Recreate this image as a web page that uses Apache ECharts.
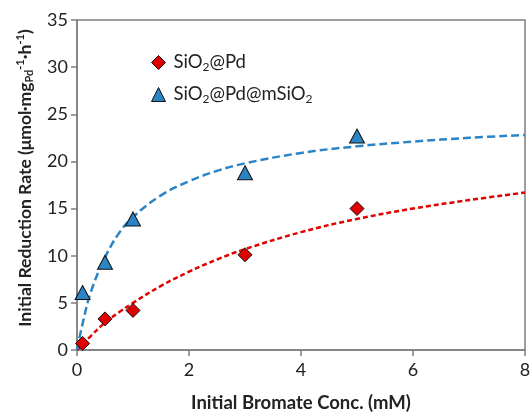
<!DOCTYPE html>
<html>
<head>
<meta charset="utf-8">
<script src="https://cdn.jsdelivr.net/npm/echarts@6/dist/echarts.min.js"></script>
<style>
  html, body { margin: 0; padding: 0; background: #fff; }
  #chart { width: 531px; height: 414px; }
</style>
</head>
<body>
<div id="chart"></div>
<script>
// Measured initial reduction rates (μmol·mgPd⁻¹·h⁻¹) vs initial bromate concentration (mM)
const concentrations = [0.1, 0.5, 1, 3, 5];
const rateSiO2Pd = [0.7, 3.3, 4.2, 10.1, 15.0];
const rateSiO2PdmSiO2 = [6.1, 9.3, 13.9, 18.8, 22.7];

// Kinetic fit curves (dashed), sampled along the concentration axis
const fitConc = [0, 0.1, 0.25, 0.5, 0.75, 1, 1.5, 2, 2.5, 3, 4, 5, 6, 7, 8];
const fitSiO2Pd = [0, 0.6, 1.5, 2.9, 4.0, 5.0, 6.8, 8.3, 9.6, 10.7, 12.5, 13.9, 15.0, 15.9, 16.7];
const fitSiO2PdmSiO2 = [0, 2.8, 6.2, 9.8, 12.4, 14.1, 16.4, 17.9, 19.0, 19.8, 20.9, 21.6, 22.1, 22.5, 22.8];

const xTicks = [0, 2, 4, 6, 8];
const yTicks = [0, 5, 10, 15, 20, 25, 30, 35];

const pair = (xs, ys) => xs.map((x, i) => [x, ys[i]]);

const FONT = 'Lato';
const RED = '#E00000';
const BLUE = '#2B85C4';
const AXIS = '#7F7F7F';

const chart = echarts.init(document.getElementById('chart'), null, { renderer: 'canvas' });

const legendRich = {
  n: { fontFamily: FONT, fontSize: 18.5, color: '#222' },
  s: { fontFamily: FONT, fontSize: 12, color: '#222', verticalAlign: 'bottom', padding: [9, 0, 0, 0] }
};

chart.setOption({
  animation: false,
  backgroundColor: '#fff',
  grid: {
    left: 77, right: 6, top: 20, bottom: 64,
    outerBoundsMode: 'none',
    show: true, borderColor: AXIS, borderWidth: 1.5, backgroundColor: 'transparent'
  },
  legend: {
    orient: 'vertical',
    left: 146,
    top: 48,
    itemGap: 12,
    itemWidth: 14,
    itemHeight: 14,
    data: [
      { name: 'SiO2@Pd', icon: 'diamond', itemStyle: { color: RED, borderColor: '#111', borderWidth: 1 } },
      { name: 'SiO2@Pd@mSiO2', icon: 'triangle', itemStyle: { color: BLUE, borderColor: '#111', borderWidth: 1 } }
    ],
    formatter: name => name === 'SiO2@Pd'
      ? '{n|SiO}{s|2}{n|@Pd}'
      : '{n|SiO}{s|2}{n|@Pd@mSiO}{s|2}',
    textStyle: { rich: legendRich, padding: [0, 0, 0, 3] }
  },
  xAxis: {
    type: 'value',
    min: 0, max: 8, interval: 2,
    name: 'Initial Bromate Conc. (mM)',
    nameLocation: 'middle',
    nameGap: 44,
    nameTextStyle: { fontFamily: FONT, fontWeight: 'bold', fontSize: 18.5, color: '#222' },
    axisLine: { show: true, onZero: false, lineStyle: { color: AXIS, width: 1.5 } },
    axisTick: { show: true, inside: false, length: 6, lineStyle: { color: AXIS, width: 1.5 } },
    axisLabel: { fontFamily: FONT, fontSize: 18, color: '#222', margin: 11,
      customValues: xTicks },
    splitLine: { show: false }
  },
  yAxis: {
    type: 'value',
    min: 0, max: 35, interval: 5,
    name: '{n|Initial Reduction Rate (μmol·mg}{sub|Pd}{sup|-1}{n|·h}{sup|-1}{n|)}',
    nameLocation: 'middle',
    nameRotate: 90,
    nameGap: 42,
    nameTextStyle: {
      padding: [0, 0, 0, 14],
      rich: {
        n: { fontFamily: FONT, fontWeight: 'bold', fontSize: 17.5, color: '#222' },
        sub: { fontFamily: FONT, fontWeight: 'bold', fontSize: 11, color: '#222', verticalAlign: 'bottom', padding: [9, 0, 0, 0] },
        sup: { fontFamily: FONT, fontWeight: 'bold', fontSize: 11, color: '#222', verticalAlign: 'top', padding: [0, 0, 9, 0] }
      }
    },
    axisLine: { show: true, lineStyle: { color: AXIS, width: 1.5 } },
    axisTick: { show: true, inside: false, length: 6, lineStyle: { color: AXIS, width: 1.5 } },
    axisLabel: { fontFamily: FONT, fontSize: 18, color: '#222', margin: 9,
      customValues: yTicks },
    splitLine: { show: false }
  },
  series: [
    {
      name: 'SiO2@Pd fit',
      type: 'line',
      data: pair(fitConc, fitSiO2Pd),
      smooth: 0.4,
      showSymbol: false,
      lineStyle: { color: RED, width: 2.5, type: [5, 3] },
      z: 2
    },
    {
      name: 'SiO2@Pd@mSiO2 fit',
      type: 'line',
      data: pair(fitConc, fitSiO2PdmSiO2),
      smooth: 0.4,
      showSymbol: false,
      lineStyle: { color: BLUE, width: 2.5, type: [8, 4] },
      z: 2
    },
    {
      name: 'SiO2@Pd',
      type: 'scatter',
      data: pair(concentrations, rateSiO2Pd),
      symbol: 'diamond',
      symbolSize: 14,
      itemStyle: { color: RED, borderColor: '#111', borderWidth: 1, opacity: 1 },
      z: 3
    },
    {
      name: 'SiO2@Pd@mSiO2',
      type: 'scatter',
      data: pair(concentrations, rateSiO2PdmSiO2),
      symbol: 'triangle',
      symbolSize: [15, 14],
      itemStyle: { color: BLUE, borderColor: '#111', borderWidth: 1, opacity: 1 },
      z: 3
    }
  ]
});
</script>
</body>
</html>
